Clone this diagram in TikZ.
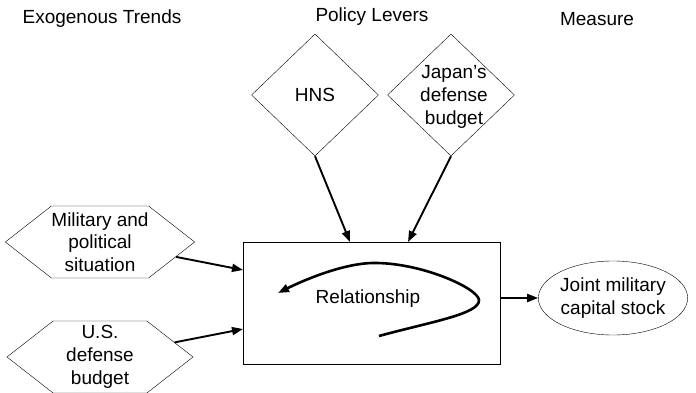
\documentclass[tikz,border=0pt]{standalone}
\usepackage{fontspec}
\setmainfont{Liberation Sans}
\usetikzlibrary{shapes.geometric,shapes.symbols,arrows.meta}
\begin{document}
\begin{tikzpicture}[x=1pt,y=-1pt,
  every node/.style={font=\fontsize{19}{22.7}\selectfont, align=center, inner sep=0pt},
  trend/.style={draw, shape=signal, signal to=west and east, signal pointer angle=76,
    minimum width=186pt, minimum height=72pt},
  lever/.style={draw, diamond, minimum width=127pt, minimum height=122pt},
  measure/.style={draw, ellipse, minimum width=140pt, minimum height=74pt},
  flow/.style={line width=1.9pt, -{Triangle[length=11pt,width=8pt]}},
  header/.style={anchor=center}]
\useasboundingbox (0,0) rectangle (696,393);

% column headers
\node[header] (hExo) at (102,19) {Exogenous Trends};
\node[header] (hPol) at (372,17) {Policy Levers};
\node[header] (hMea) at (597,19) {Measure};

% central relationship box
\node[draw, line width=0.8pt, minimum width=257pt, minimum height=122pt] (box) at (371.5,303) {};
\node (rel) at (368,299) {Relationship};

% exogenous trends
\node[trend] (mil) at (100,242) {Military and\\political\\situation};
\node[trend] (usd) at (100,357) {U.S.\\defense\\budget};

% policy levers
\node[lever] (hns) at (315,95) {};
\node at (315,95) {HNS};
\node[lever] (jdb) at (451,95) {};
\node at (454,97) {Japan’s\\defense\\budget};

% measure
\node[measure] (jmc) at (613,298) {Joint military\\capital stock};

% arrival points on the box
\coordinate (inMil) at (243,270);
\coordinate (inUsd) at (243,329);
\coordinate (inHns) at (350,242);
\coordinate (inJdb) at (408,242);
\coordinate (outBox) at (500,298);

\draw[flow] (mil) -- (inMil);
\draw[flow] (usd) -- (inUsd);
\draw[flow] (hns.south) -- (inHns);
\draw[flow] (jdb.south) -- (inJdb);
\draw[flow] (outBox) -- (jmc.west);

% loop inside the box
\draw[line width=2.6pt, -{Triangle[length=11pt,width=8pt]}]
  (379,336) .. controls (430,322) and (480,314) .. (479,300)
  .. controls (478,288) and (420,262) .. (372,263)
  .. controls (340,264) and (300,282) .. (278,293);
\end{tikzpicture}
\end{document}
